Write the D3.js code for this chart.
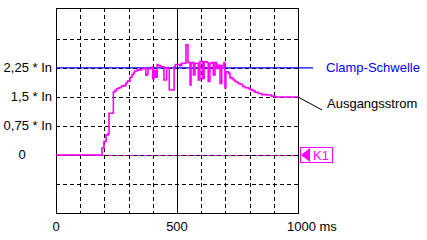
<!DOCTYPE html>
<html>
<head>
<meta charset="utf-8">
<script src="https://cdn.jsdelivr.net/npm/d3@7"></script>
<style>
  body { margin: 0; background: #fff; }
  svg text { font-family: "Liberation Sans", Arial, sans-serif; font-size: 13px; }
</style>
</head>
<body>
<svg></svg>
<script>
const width = 427;
const height = 240;

// step times (ms) and output current values (multiples of In)
const times = [0, 190, 198, 207, 215, 219, 237, 244, 251, 260, 270, 281, 289, 295, 306, 314, 320, 325, 336, 353, 367, 371, 376, 380, 393, 400, 405, 412, 418, 422, 433, 446, 457, 468, 488, 493, 512, 519, 537, 545, 554, 558, 568, 574, 588, 595, 606, 612, 623, 629, 636, 643, 650, 657, 664, 671, 678, 685, 694, 698, 702, 712, 719, 726, 733, 740, 747, 753, 760, 771, 781, 795, 802, 813, 822, 836, 850, 871, 891, 905, 1000];
const values = [0, 0.18, 0.35, 0.52, 0.55, 1.08, 1.63, 1.67, 1.72, 1.74, 1.78, 1.80, 1.86, 1.91, 2.01, 2.08, 2.12, 2.17, 2.20, 2.23, 2.25, 2.06, 2.10, 2.23, 2.27, 1.97, 2.18, 2.01, 2.34, 2.31, 2.28, 1.94, 2.26, 1.68, 2.28, 2.34, 2.31, 2.37, 2.85, 2.39, 1.81, 2.39, 2.07, 2.37, 1.94, 2.42, 1.98, 2.41, 2.39, 1.90, 2.37, 2.39, 2.07, 2.39, 2.24, 2.32, 1.85, 2.31, 2.39, 1.74, 2.15, 2.11, 2.00, 1.98, 1.94, 1.90, 1.88, 1.85, 1.83, 1.77, 1.74, 1.72, 1.69, 1.66, 1.62, 1.59, 1.56, 1.55, 1.52, 1.50, 1.50];

const clampLevel = 2.25;
const xTicks = [0, 500, 1000];
const xTickLabels = ["0", "500", "1000 ms"];
const yTicks = [2.25, 1.5, 0.75, 0];
const yTickLabels = ["2,25 * In", "1,5 * In", "0,75 * In", "0"];
const xGrid = [100, 200, 300, 400, 500, 600, 700, 800, 900];
const yGrid = [-0.75, 0, 0.75, 1.5, 2.25, 3.0];

const magenta = "#ff00ff";
const blue = "#0000ff";

const svg = d3.select("svg")
              .attr("width", width)
              .attr("height", height);

const box = {left: 56, top: 8, right: 298, bottom: 213};

const x = d3.scaleLinear().domain([0, 1000]).range([box.left, box.right]);
const y = d3.scaleLinear().domain([-1.5, 3.8]).range([box.bottom, box.top]);

// zero baseline of the channel
svg.append("line")
   .attr("x1", box.left).attr("x2", box.right)
   .attr("y1", y(0) + 0.5).attr("y2", y(0) + 0.5)
   .style("stroke", magenta)
   .style("stroke-width", 1);

// grid
svg.append("g")
   .selectAll("line")
   .data(xGrid)
   .enter()
   .append("line")
   .attr("x1", d => Math.round(x(d)) + 0.5)
   .attr("x2", d => Math.round(x(d)) + 0.5)
   .attr("y1", box.top)
   .attr("y2", box.bottom)
   .style("stroke", "#000")
   .style("stroke-dasharray", d => d === 500 ? null : "4,3");

svg.append("g")
   .selectAll("line")
   .data(yGrid)
   .enter()
   .append("line")
   .attr("x1", box.left)
   .attr("x2", box.right)
   .attr("y1", d => Math.round(y(d)) + 0.5)
   .attr("y2", d => Math.round(y(d)) + 0.5)
   .style("stroke", "#000")
   .style("stroke-dasharray", "4,3");

// frame
svg.append("rect")
   .attr("x", box.left + 0.5)
   .attr("y", box.top + 0.5)
   .attr("width", box.right - box.left)
   .attr("height", box.bottom - box.top)
   .style("fill", "none")
   .style("stroke", "#000");

// clamp threshold
svg.append("line")
   .attr("x1", box.left)
   .attr("x2", box.right + 15)
   .attr("y1", y(clampLevel))
   .attr("y2", y(clampLevel))
   .style("stroke", blue)
   .style("stroke-width", 1.3);

svg.append("text")
   .text("Clamp-Schwelle")
   .attr("x", box.right + 28)
   .attr("y", y(clampLevel) + 4.5)
   .style("fill", blue);

// output current
const data = times.map((t, i) => ({t: t, v: values[i]}));

const line = d3.line()
               .x(d => x(d.t))
               .y(d => y(d.v))
               .curve(d3.curveStepAfter);

svg.append("path")
   .datum(data)
   .attr("d", line)
   .style("fill", "none")
   .style("stroke", magenta)
   .style("stroke-width", 1.6);

// leader to label
svg.append("line")
   .attr("x1", x(1000))
   .attr("y1", y(values[values.length - 1]))
   .attr("x2", x(1000) + 24)
   .attr("y2", y(values[values.length - 1]) + 13)
   .style("stroke", "#000");

svg.append("text")
   .text("Ausgangsstrom")
   .attr("x", x(1000) + 29)
   .attr("y", y(values[values.length - 1]) + 11)
   .style("fill", "#000");

// K1 channel marker
const k1 = svg.append("g")
              .attr("transform", "translate(" + (box.right + 2) + "," + y(0) + ")");

k1.append("rect")
  .attr("x", 0.5).attr("y", -7.5)
  .attr("width", 32).attr("height", 15)
  .style("fill", "#fff")
  .style("stroke", magenta);

k1.append("path")
  .attr("d", "M1,0L10,-7L10,7Z")
  .style("fill", magenta);

k1.append("text")
  .text("K1")
  .attr("x", 13)
  .attr("y", 5)
  .style("fill", magenta);

// axis labels
svg.append("g")
   .selectAll("text")
   .data(xTicks)
   .enter()
   .append("text")
   .text((d, i) => xTickLabels[i])
   .attr("x", d => d === 1000 ? x(d) - 11 : x(d))
   .attr("y", 231)
   .attr("text-anchor", d => d === 1000 ? "start" : "middle");

svg.append("g")
   .selectAll("text")
   .data(yTicks)
   .enter()
   .append("text")
   .text((d, i) => yTickLabels[i])
   .attr("x", d => d === 0 ? 22 : box.left - 4)
   .attr("y", d => y(d) + 4.5)
   .attr("text-anchor", d => d === 0 ? "middle" : "end");
</script>
</body>
</html>
